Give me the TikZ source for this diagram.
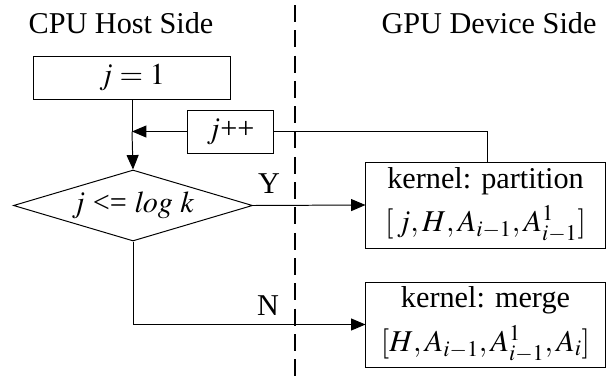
\documentclass[tikz,border=0pt]{standalone}
\usepackage{mathptmx}
\usepackage[no-math]{fontspec}
\setmainfont{Liberation Serif}
\usetikzlibrary{positioning,arrows.meta,shapes.geometric}
\tikzset{
  wire/.style    = {line width=0.7pt},
  awire/.style   = {line width=0.7pt, -{Triangle[length=0.36cm, width=0.3cm]}},
  sep/.style     = {line width=1.5pt, dash pattern=on 12pt off 6pt},
  pbox/.style    = {draw, line width=0.7pt, inner sep=2pt,
                    font=\fontsize{21.5}{29}\selectfont},
  dbox/.style    = {draw, diamond, line width=0.7pt, inner sep=0pt, aspect=3.4,
                    minimum width=5.975cm, minimum height=1.775cm,
                    font=\fontsize{21.5}{29}\selectfont},
  ttl/.style     = {anchor=base, inner sep=0pt, font=\fontsize{21.5}{26}\selectfont},
  lbl/.style     = {inner sep=1pt, font=\fontsize{21.5}{26}\selectfont},
}
\begin{document}
\begin{tikzpicture}[x=0.025cm, y=-0.025cm]
  \useasboundingbox (0,0) rectangle (607,377);
  % titles and the host/device border
  \node[ttl] (host) at (121,33) {CPU Host Side};
  \node[ttl] (dev) at (489,33) {GPU Device Side};
  \coordinate (st) at (295,5);
  \coordinate (sb) at (295,377);
  \draw[sep] (st) -- (sb);
  % host side
  \node[pbox, minimum width=4.9cm, minimum height=1.075cm] (init) at (132,77.5) {$j=1$};
  \node[dbox] (cond) at (133,205.5) {$j$ <= $\mathit{log}\ k$};
  \node[pbox, minimum width=2.125cm, minimum height=1.075cm] (inc) at (230.5,131.5) {$j$++};
  \coordinate (join) at (init.south |- inc.west);
  \draw[wire] (init.south) -- (join);
  \draw[awire] (join) -- (cond.north);
  \draw[awire] (inc.west) -- (join);
  % device side
  \node[pbox, align=center, minimum width=5.975cm, minimum height=2.15cm]
    (part) at (485.5,205) {kernel: partition\\[2pt]$[\,j,H,A_{i-1},A^1_{i-1}]$};
  \node[pbox, align=center, minimum width=5.975cm, minimum height=2.125cm]
    (merge) at (485.5,324.5) {kernel: merge\\[2pt]$[H,A_{i-1},A^1_{i-1},A_i]$};
  \draw[awire] (cond.east) -- (part.west);
  \node[lbl] (yes) at (269,184) {Y};
  \coordinate (turn) at (cond.south |- merge.west);
  \draw[awire] (cond.south) -- (turn) -- (merge.west);
  \node[lbl] (no) at (268,306) {N};
  \draw[wire] (inc.east) -| ([xshift=0.06cm]part.north);
\end{tikzpicture}
\end{document}
